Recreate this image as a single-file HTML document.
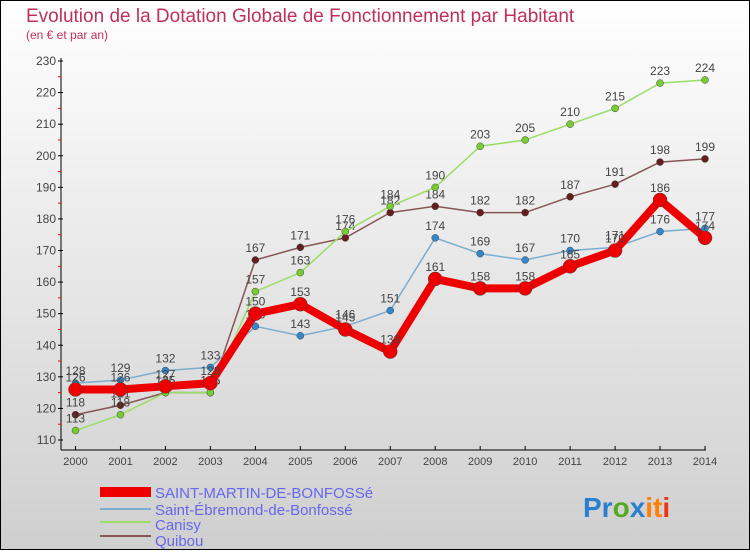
<!DOCTYPE html>
<html><head><meta charset="utf-8"><style>
body{margin:0;width:750px;height:550px;overflow:hidden;font-family:"Liberation Sans",sans-serif}
svg text{font-family:"Liberation Sans",sans-serif}
</style></head><body>
<svg id="c" width="750" height="550" xmlns="http://www.w3.org/2000/svg">
<defs><linearGradient id="bg" x1="0" y1="0" x2="0" y2="1"><stop offset="0" stop-color="#ffffff"/><stop offset="1" stop-color="#cfcfcf"/></linearGradient></defs>
<rect x="0.5" y="0.5" width="749" height="549" fill="url(#bg)" stroke="#000"/>
<text x="26" y="22" font-size="19" fill="#c0305a">Evolution de la Dotation Globale de Fonctionnement par Habitant</text>
<text x="26" y="39" font-size="12" fill="#c0305a">(en € et par an)</text>
<g id="axes"></g><g id="series"></g>
<g>
<rect x="100" y="487" width="51" height="10" fill="#e00"/>
<text x="155" y="498" font-size="15" fill="#6666ee">SAINT-MARTIN-DE-BONFOSSé</text>
<rect x="100" y="508" width="51" height="2" fill="#7aaed0"/>
<text x="155" y="515" font-size="15" fill="#6666ee">Saint-Ébremond-de-Bonfossé</text>
<rect x="100" y="521" width="51" height="2" fill="#99dd66"/>
<text x="155" y="530" font-size="15" fill="#6666ee">Canisy</text>
<rect x="100" y="535" width="51" height="2" fill="#885555"/>
<text x="155" y="546" font-size="15" fill="#6666ee">Quibou</text>
</g>
<text x="583" y="517" font-size="28" font-weight="bold"><tspan fill="#2a7fd0">Pr</tspan><tspan fill="#55aa22">o</tspan><tspan fill="#2a7fd0">x</tspan><tspan fill="#ff7f00">it</tspan><tspan fill="#ee3311">i</tspan></text>
</svg>
<script>
const years=["2000","2001","2002","2003","2004","2005","2006","2007","2008","2009","2010","2011","2012","2013","2014"];
const yTicks=[110,120,130,140,150,160,170,180,190,200,210,220,230];
const saintMartin=[126,126,127,128,150,153,145,138,161,158,158,165,170,186,174];
const saintEbremond=[128,129,132,133,146,143,146,151,174,169,167,170,171,176,177];
const canisy=[113,118,125,125,157,163,176,184,190,203,205,210,215,223,224];
const quibou=[118,121,125,125,167,171,174,182,184,182,182,187,191,198,199];
const NS="http://www.w3.org/2000/svg";
const X=i=>75.5+i*(705-75.5)/(years.length-1);
const Y=v=>440-(v-110)*(440-61)/120;
function mk(t,a,p){const e=document.createElementNS(NS,t);for(const k in a)e.setAttribute(k,a[k]);p.appendChild(e);return e;}
const ax=document.getElementById('axes');
let e=mk('line',{x1:61,y1:58,x2:61,y2:450,stroke:'#000'},ax);


e=mk('line',{x1:61,y1:450,x2:706,y2:450,stroke:'#000'},ax);


yTicks.forEach((v,i)=>{
 mk('line',{x1:58,y1:Y(v),x2:63,y2:Y(v),stroke:'#000'},ax);
 if(i<yTicks.length-1)mk('line',{x1:58,y1:Y(v+5),x2:61,y2:Y(v+5),stroke:'#f00'},ax);
 const t=mk('text',{x:56,y:Y(v)+4,'font-size':12,fill:'#444','text-anchor':'end'},ax);t.textContent=v;
 
 
});
years.forEach((y,i)=>{
 mk('line',{x1:X(i),y1:446,x2:X(i),y2:450,stroke:'#000'},ax);
 const t=mk('text',{x:X(i),y:465,'font-size':11,fill:'#444','text-anchor':'middle'},ax);t.textContent=y;
 
 
});
const sg=document.getElementById('series');
function draw(d,name,col,dot,w,r){
 const g=mk('g',{},sg);
 
 
 mk('polyline',{points:d.map((v,i)=>X(i)+','+Y(v)).join(' '),fill:'none',stroke:col,'stroke-width':w,'stroke-linejoin':'round'},g);
 d.forEach((v,i)=>{
  const c=mk('circle',{cx:X(i),cy:Y(v),r:r,fill:dot,stroke:'#444','stroke-width':0.5},g);
  
  
  const t=mk('text',{x:X(i),y:Y(v)-8,'font-size':12,fill:'#444','text-anchor':'middle'},g);t.textContent=v;
  
  
 });
}
draw(quibou,'quibou','#885555','#661d1d',1.5,3.5);
draw(canisy,'canisy','#99dd66','#77cc33',1.5,3.5);
draw(saintEbremond,'saint-ebremond','#7aaed0','#3388cc',1.5,3.5);
draw(saintMartin,'saint-martin','#ee0000','#ee0000',8,7);
</script>
</body></html>
